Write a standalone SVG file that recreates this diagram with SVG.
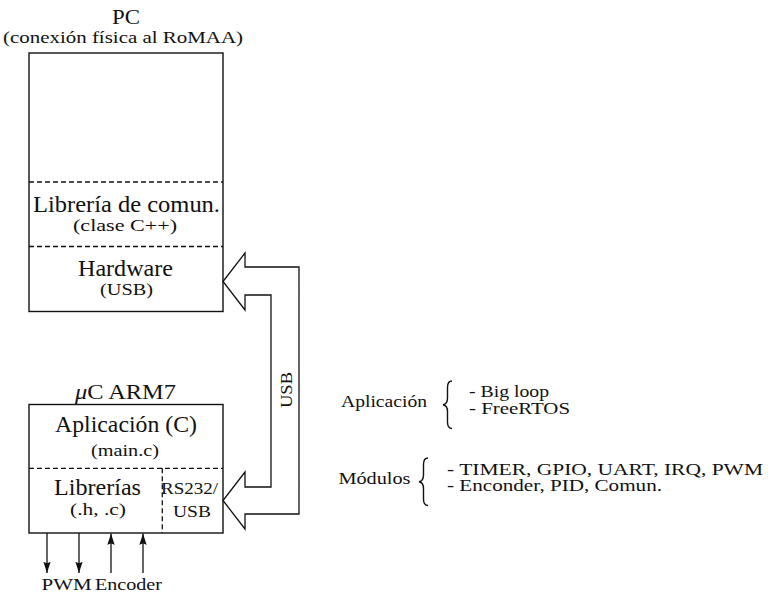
<svg xmlns="http://www.w3.org/2000/svg" width="768" height="593" viewBox="0 0 768 593" font-family="'Liberation Serif', 'DejaVu Serif', serif">
<defs>
<style>
text{font-family:"Liberation Serif","DejaVu Serif",serif;fill:#111;}
.m{font-size:22.5px;text-anchor:middle;}
.t{font-size:20px;text-anchor:middle;}
.s{font-size:17px;text-anchor:middle;}
.r{font-size:16px;}
.box{fill:none;stroke:#111;stroke-width:1.4;}
.dash{fill:none;stroke:#111;stroke-width:1.3;stroke-dasharray:5 3;}
.ln{fill:none;stroke:#111;stroke-width:1.3;}
.brace{fill:none;stroke:#111;stroke-width:1.4;}
</style>
<marker id="ah" markerUnits="userSpaceOnUse" markerWidth="12" markerHeight="9" viewBox="0 0 12 8" refX="11.5" refY="4" orient="auto">
<path d="M0,0.3 L11.5,4 L0,7.7 Q3,4 0,0.3 z" fill="#111"/>
</marker>
</defs>
<rect width="768" height="593" fill="#fff"/>

<g id="pc">
<text class="t" x="126" y="23.5" textLength="28" lengthAdjust="spacingAndGlyphs">PC</text>
<text class="s" x="123" y="43" textLength="240" lengthAdjust="spacingAndGlyphs">(conexión física al RoMAA)</text>
<rect class="box" x="29" y="53" width="194" height="258.5"/>
<line class="dash" x1="29" y1="182" x2="223" y2="182"/>
<line class="dash" x1="29" y1="246.5" x2="223" y2="246.5"/>
<text class="m" x="126.5" y="212" textLength="187" lengthAdjust="spacingAndGlyphs">Librería de comun.</text>
<text class="s" x="125" y="231" textLength="104" lengthAdjust="spacingAndGlyphs">(clase C++)</text>
<text class="m" x="125.5" y="276" textLength="95" lengthAdjust="spacingAndGlyphs">Hardware</text>
<text class="s" x="126.5" y="294.5" textLength="53" lengthAdjust="spacingAndGlyphs">(USB)</text>
</g>

<g id="arm7">
<text class="t" x="125.5" y="399" textLength="101" lengthAdjust="spacingAndGlyphs"><tspan font-style="italic">μ</tspan>C ARM7</text>
<rect class="box" x="29" y="404.5" width="194" height="128.5"/>
<line class="dash" x1="29" y1="468.3" x2="223" y2="468.3"/>
<line class="dash" x1="162.3" y1="468.3" x2="162.3" y2="533"/>
<text class="m" x="126" y="432" textLength="142" lengthAdjust="spacingAndGlyphs">Aplicación (C)</text>
<text class="s" x="125" y="456" textLength="68" lengthAdjust="spacingAndGlyphs">(main.c)</text>
<text class="m" x="97.5" y="494.5" textLength="87" lengthAdjust="spacingAndGlyphs">Librerías</text>
<text class="s" x="98" y="515" textLength="56" lengthAdjust="spacingAndGlyphs">(.h, .c)</text>
<text class="s" x="189.5" y="494" textLength="57" lengthAdjust="spacingAndGlyphs">RS232/</text>
<text class="s" x="192" y="517" textLength="38" lengthAdjust="spacingAndGlyphs">USB</text>
</g>

<g id="io-labels">
<text class="s" x="66.5" y="590" textLength="50" lengthAdjust="spacingAndGlyphs">PWM</text>
<text class="s" x="128.5" y="590" textLength="67" lengthAdjust="spacingAndGlyphs">Encoder</text>
</g>

<g id="aplicacion-note">
<text class="r" x="341" y="407" textLength="86" lengthAdjust="spacingAndGlyphs">Aplicación</text>
<path class="brace" d="M452,381 C448.5,381 447.5,383.5 447.5,387.5 L447.5,398 C447.5,402 446,404.3 443,404.8 C446,405.3 447.5,407.6 447.5,411.6 L447.5,422 C447.5,426 448.5,428.5 452,428.5"/>
<text class="r" x="469" y="397" textLength="80" lengthAdjust="spacingAndGlyphs">- Big loop</text>
<text class="r" x="469" y="413.5" textLength="101" lengthAdjust="spacingAndGlyphs">- FreeRTOS</text>
</g>

<g id="modulos-note">
<text class="r" x="338.5" y="484" textLength="72" lengthAdjust="spacingAndGlyphs">Módulos</text>
<path class="brace" d="M428,458 C424.5,458 423.5,460.5 423.5,464.5 L423.5,475 C423.5,479 422,481.3 419,481.8 C422,482.3 423.5,484.6 423.5,488.6 L423.5,499 C423.5,503 424.5,505.5 428,505.5"/>
<text class="r" x="447" y="475" textLength="316" lengthAdjust="spacingAndGlyphs">- TIMER, GPIO, UART, IRQ, PWM</text>
<text class="r" x="447" y="490.5" textLength="215" lengthAdjust="spacingAndGlyphs">- Enconder, PID, Comun.</text>
</g>

<g id="connectors">
<path class="ln" d="M223,281.5 L245,253 L245,267 L299,267 L299,514 L245,514 L245,529 L223,500.5 L245,472 L245,487 L271,487 L271,295 L245,295 L245,310 Z"/>
<text class="s" transform="translate(291.5,390) rotate(-90)" textLength="36" lengthAdjust="spacingAndGlyphs">USB</text>
<line class="ln" x1="47" y1="533" x2="47" y2="573" marker-end="url(#ah)"/>
<line class="ln" x1="79" y1="533" x2="79" y2="573" marker-end="url(#ah)"/>
<line class="ln" x1="111" y1="573" x2="111" y2="533.5" marker-end="url(#ah)"/>
<line class="ln" x1="143" y1="573" x2="143" y2="533.5" marker-end="url(#ah)"/>
</g>
</svg>
